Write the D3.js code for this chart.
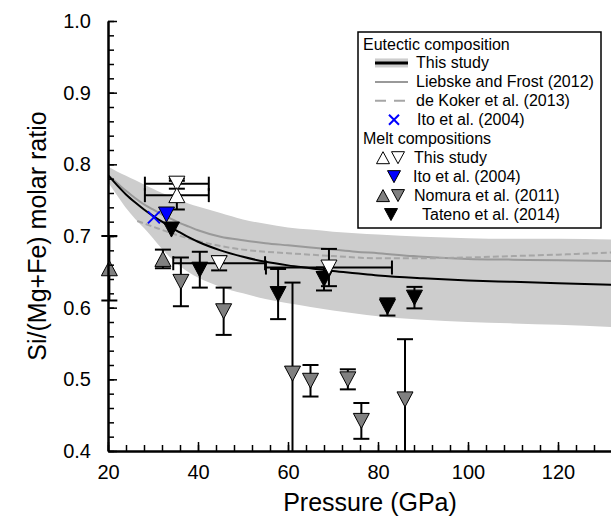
<!DOCTYPE html>
<html><head><meta charset="utf-8">
<script src="https://cdn.jsdelivr.net/npm/d3@7"></script>
<style>
body{margin:0;background:#fff;}
svg{display:block;font-family:"Liberation Sans",Arial,sans-serif;}
</style></head><body>
<svg id="c" width="611" height="516"></svg>
<script>
// ---------- data ----------
const xTicks = [20, 40, 60, 80, 100, 120];
const yTicks = [0.4, 0.5, 0.6, 0.7, 0.8, 0.9, 1.0];

// Eutectic curves
const eutP        = [20,22,24,26,28,30,32,34,36,38,40,45,50,55,60,65,70,75,80,90,100,110,120,132];
const thisStudyEut= [0.785,0.771,0.758,0.747,0.737,0.728,0.720,0.712,0.705,0.698,0.692,0.680,0.671,0.664,0.659,0.655,0.651,0.648,0.645,0.641,0.638,0.636,0.634,0.632];
const bandUpper   = [0.797,0.790,0.784,0.778,0.772,0.766,0.760,0.755,0.750,0.745,0.741,0.732,0.723,0.717,0.712,0.709,0.706,0.704,0.702,0.699,0.697,0.696,0.696,0.695];
const bandLower   = [0.775,0.757,0.739,0.724,0.711,0.697,0.682,0.669,0.658,0.649,0.642,0.629,0.620,0.612,0.606,0.601,0.596,0.592,0.588,0.583,0.580,0.578,0.576,0.573];
const liebske     = [0.785,0.774,0.763,0.753,0.744,0.737,0.730,0.724,0.718,0.713,0.708,0.699,0.694,0.690,0.687,0.684,0.681,0.678,0.676,0.671,0.668,0.667,0.666,0.665];
const dekokerP    = [26.5,30,35,40,45,50,55,60,70,80,90,100,110,120,132];
const dekoker     = [0.721,0.713,0.702,0.693,0.686,0.681,0.678,0.676,0.672,0.669,0.669,0.670,0.672,0.674,0.677];

// Ito et al. (2004) eutectic
const itoEutP = [30.2];
const itoEutV = [0.726];

// Melt compositions
const tsDownP = [35.3, 44.7, 69.1];
const tsDownV = [0.773, 0.662, 0.656];
const tsDownVErr = [0.007, 0.010, 0.026];
const tsDownPErr = [7.1, 10.2, 14.0];
const tsUpP = [35.3];
const tsUpV = [0.757];
const tsUpVErr = [0.02];
const tsUpPErr = [7.1];

const itoMeltP = [33.0];
const itoMeltV = [0.730];

const nomUpP = [20.3, 32.2];
const nomUpV = [0.655, 0.668];
const nomUpErr = [0.045, 0.013];
const nomDownP = [36.2, 45.7, 61.0, 65.0, 73.3, 76.3, 86.0];
const nomDownV = [0.636, 0.595, 0.508, 0.498, 0.500, 0.442, 0.472];
const nomDownErr = [0.034, 0.033, 0.127, 0.022, 0.014, 0.025, 0.084];

const tatP = [34.1, 40.4, 57.8, 68.0, 82.1, 88.1];
const tatV = [0.709, 0.653, 0.619, 0.640, 0.601, 0.614];
const tatErr = [0, 0.025, 0.035, 0.016, 0.012, 0.015];

// ---------- chart ----------
const svg = d3.select('#c');
const x = d3.scaleLinear().domain([20, 140]).range([108, 648]);
const y = d3.scaleLinear().domain([0.4, 1.0]).range([451, 21]);

svg.append('clipPath').attr('id','clip').append('rect')
  .attr('x', x(20)).attr('y', y(1.0)).attr('width', x(140)-x(20)).attr('height', y(0.4)-y(1.0));
const plot = svg.append('g').attr('clip-path','url(#clip)');

const eut = eutP.map((p,i)=>({p, v:thisStudyEut[i], hi:bandUpper[i], lo:bandLower[i], lf:liebske[i]}));
plot.append('path').datum(eut)
  .attr('d', d3.area().x(d=>x(d.p)).y0(d=>y(d.lo)).y1(d=>y(d.hi)).curve(d3.curveMonotoneX))
  .attr('fill', '#cdcdcd');
plot.append('path').datum(eut)
  .attr('d', d3.line().x(d=>x(d.p)).y(d=>y(d.lf)).curve(d3.curveMonotoneX))
  .attr('fill','none').attr('stroke','#999').attr('stroke-width',2);
plot.append('path').datum(dekokerP.map((p,i)=>({p, v:dekoker[i]})))
  .attr('d', d3.line().x(d=>x(d.p)).y(d=>y(d.v)).curve(d3.curveMonotoneX))
  .attr('fill','none').attr('stroke','#a6a6a6').attr('stroke-width',2).attr('stroke-dasharray','6,3');
plot.append('path').datum(eut)
  .attr('d', d3.line().x(d=>x(d.p)).y(d=>y(d.v)).curve(d3.curveMonotoneX))
  .attr('fill','none').attr('stroke','#000').attr('stroke-width',2);

// markers helpers
const triDown = (w,h)=>`M${-w/2},${-h/2}L${w/2},${-h/2}L0,${h/2}Z`;
const triUp = (w,h)=>`M${-w/2},${h/2}L${w/2},${h/2}L0,${-h/2}Z`;
const eb = svg.append('g').attr('stroke','#000').attr('stroke-width',2).attr('fill','none');
function vErr(P, V, E){
  P.forEach((p,i)=>{
    if(!E[i]) return;
    const lo = Math.max(V[i]-E[i], 0.4), hi = V[i]+E[i];
    eb.append('line').attr('x1',x(p)).attr('x2',x(p)).attr('y1',y(lo)).attr('y2',y(hi));
    [lo,hi].forEach(v=>{ if(v>0.4) eb.append('line').attr('x1',x(p)-8).attr('x2',x(p)+8).attr('y1',y(v)).attr('y2',y(v)); });
  });
}
function hErr(P, V, E){
  P.forEach((p,i)=>{
    const l = p-E[i], r = p+E[i];
    eb.append('line').attr('x1',x(l)).attr('x2',x(r)).attr('y1',y(V[i])).attr('y2',y(V[i]));
    [l,r].forEach(q=> eb.append('line').attr('x1',x(q)).attr('x2',x(q)).attr('y1',y(V[i])-7).attr('y2',y(V[i])+7));
  });
}
vErr(nomUpP, nomUpV, nomUpErr);
vErr(nomDownP, nomDownV, nomDownErr);
vErr(tatP, tatV, tatErr);
vErr(tsDownP, tsDownV, tsDownVErr);
vErr(tsUpP, tsUpV, tsUpVErr);
hErr(tsDownP, tsDownV, tsDownPErr);
hErr(tsUpP, tsUpV, tsUpPErr);

const mk = svg.append('g').attr('stroke','#000').attr('stroke-width',1);
function marks(P, V, shape, fill){
  mk.selectAll(null).data(P.map((p,i)=>[p,V[i]])).enter().append('path')
    .attr('d', shape).attr('fill', fill)
    .attr('transform', d=>`translate(${x(d[0])},${y(d[1])})`);
}
marks(nomUpP, nomUpV, triUp(16,15), '#808080');
marks(nomDownP, nomDownV, triDown(16,15), '#808080');
marks(tatP, tatV, triDown(16,15), '#000');
marks(itoMeltP, itoMeltV, triDown(16,15), '#0000ff');
marks(tsDownP, tsDownV, triDown(16,15), '#fff');
marks(tsUpP, tsUpV, triUp(16,15), '#fff');
// Ito eutectic X
svg.append('g').selectAll(null).data(itoEutP.map((p,i)=>[p,itoEutV[i]])).enter().append('path')
  .attr('d','M-6,-6L6,6M-6,6L6,-6').attr('stroke','#0000ff').attr('stroke-width',2)
  .attr('transform', d=>`translate(${x(d[0])},${y(d[1])})`);

// ---------- axes ----------
const xMinor = d3.range(20, 141, 4);
const yMinor = d3.range(0.4, 1.001, 0.02);
const gx = svg.append('g').attr('transform',`translate(0,${y(0.4)})`);
gx.call(d3.axisBottom(x).tickValues(xMinor).tickSize(-6).tickSizeOuter(0).tickFormat(''));
const gx2 = svg.append('g').attr('transform',`translate(0,${y(0.4)})`);
gx2.call(d3.axisBottom(x).tickValues(xTicks).tickSize(-9).tickSizeOuter(0).tickPadding(14).tickFormat(d3.format('d')));
const gy = svg.append('g').attr('transform',`translate(${x(20)},0)`);
gy.call(d3.axisLeft(y).tickValues(yMinor).tickSize(-6).tickSizeOuter(0).tickFormat(''));
const gy2 = svg.append('g').attr('transform',`translate(${x(20)},0)`);
gy2.call(d3.axisLeft(y).tickValues(yTicks).tickSize(-9).tickSizeOuter(0).tickPadding(17).tickFormat(d3.format('.1f')));
svg.selectAll('.domain').attr('stroke','#000').attr('stroke-width',2);
svg.selectAll('.tick line').attr('stroke','#000').attr('stroke-width',1.5);
svg.selectAll('.tick text').attr('font-size',20).attr('font-family','"Liberation Sans",Arial,sans-serif').attr('fill','#000');

svg.append('text').attr('x',370).attr('y',511).attr('text-anchor','middle')
  .attr('font-size',25).text('Pressure (GPa)');
svg.append('text').attr('transform','translate(46,236) rotate(-90)').attr('text-anchor','middle')
  .attr('font-size',25).text('Si/(Mg+Fe) molar ratio');

// ---------- legend ----------
const lg = svg.append('g');
lg.append('rect').attr('x',358).attr('y',32).attr('width',243).attr('height',196)
  .attr('fill','#fff').attr('stroke','#000').attr('stroke-width',1.5);
const base = i => 49.5 + 18.95*i;
const ctr = i => base(i) - 5.5;
const lt = (tx, i, s) => lg.append('text').attr('x',tx).attr('y',base(i)).attr('font-size',16).text(s);
lt(363, 0, 'Eutectic composition');
lg.append('rect').attr('x',375).attr('y',ctr(1)-4.5).attr('width',33).attr('height',9).attr('fill','#cdcdcd');
lg.append('line').attr('x1',375).attr('x2',408).attr('y1',ctr(1)).attr('y2',ctr(1)).attr('stroke','#000').attr('stroke-width',3);
lt(416, 1, 'This study');
lg.append('line').attr('x1',375).attr('x2',408).attr('y1',ctr(2)).attr('y2',ctr(2)).attr('stroke','#999').attr('stroke-width',2);
lt(416, 2, 'Liebske and Frost (2012)');
lg.append('line').attr('x1',375).attr('x2',408).attr('y1',ctr(3)).attr('y2',ctr(3)).attr('stroke','#a6a6a6').attr('stroke-width',2).attr('stroke-dasharray','11,8');
lt(416, 3, 'de Koker et al. (2013)');
lg.append('path').attr('d','M-5,-5L5,5M-5,5L5,-5').attr('stroke','#0000ff').attr('stroke-width',2)
  .attr('transform',`translate(394,${ctr(4)})`);
lt(417, 4, 'Ito et al. (2004)');
lt(363, 5, 'Melt compositions');
const lm = (cx, i, shape, fill) => lg.append('path').attr('d',shape).attr('fill',fill)
  .attr('stroke','#000').attr('stroke-width',1).attr('transform',`translate(${cx},${ctr(i)})`);
lm(383, 6, triUp(13,12), '#fff'); lm(398, 6, triDown(13,12), '#fff');
lt(414, 6, 'This study');
lm(394, 7, triDown(13,12), '#0000ff');
lt(413, 7, 'Ito et al. (2004)');
lm(383, 8, triUp(13,12), '#808080'); lm(398, 8, triDown(13,12), '#808080');
lt(414, 8, 'Nomura et al. (2011)');
lm(391, 9, triDown(13,12), '#000');
lt(422, 9, 'Tateno et al. (2014)');
</script>
</body></html>
